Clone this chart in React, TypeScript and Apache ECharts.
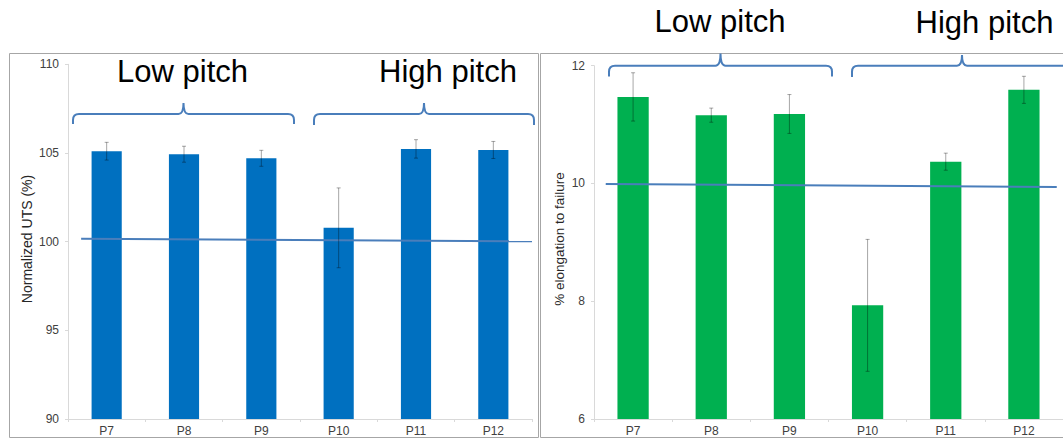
import React, { useEffect, useRef } from "react";
import * as echarts from "echarts";

// ---- data ----
const CATEGORIES = ["P7", "P8", "P9", "P10", "P11", "P12"];
const UTS = [105.1, 104.93, 104.7, 100.78, 105.23, 105.17];
const UTS_ERR = [0.5, 0.45, 0.45, 2.25, 0.52, 0.48];
const ELONG = [11.47, 11.16, 11.18, 7.93, 10.37, 11.59];
const ELONG_ERR = [0.41, 0.12, 0.33, 1.12, 0.145, 0.23];
// hand-drawn reference lines (x in category units 0..6, y in axis units)
const UTS_REF_X = [0.17, 6.0];
const UTS_REF_Y = [100.17, 100.02];
const ELONG_REF_X = [0.15, 5.92];
const ELONG_REF_Y = [9.99, 9.94];
// axis ranges
const UTS_AXIS = { min: 90, max: 110, interval: 5 };
const ELONG_AXIS = { min: 6, max: 12, interval: 2 };
const GROUP_LABELS = ["Low pitch", "High pitch"];
const Y_TITLES = ["Normalized UTS (%)", "% elongation to failure"];

const FONT = "'Liberation Sans', Arial, sans-serif";
const BRACE_COLOR = "#4a7ebb";

function bracePath(x1: number, x2: number, yBar: number, yTip: number, yEnd: number) {
  const r = 6;
  const t = 5;
  const mid = (x1 + x2) / 2;
  return (
    `M${x1},${yEnd} L${x1},${yBar + r} Q${x1},${yBar} ${x1 + r},${yBar} ` +
    `L${mid - t},${yBar} Q${mid},${yBar} ${mid},${yTip} ` +
    `Q${mid},${yBar} ${mid + t},${yBar} L${x2 - r},${yBar} ` +
    `Q${x2},${yBar} ${x2},${yBar + r} L${x2},${yEnd}`
  );
}

let registered = false;
function registerBraces() {
  if (registered) return;
  registered = true;
  echarts.graphic.registerShape("braceA", echarts.graphic.extendPath(bracePath(73, 294, 114, 103, 124), {}));
  echarts.graphic.registerShape("braceB", echarts.graphic.extendPath(bracePath(314, 534, 114, 103, 125), {}));
  echarts.graphic.registerShape("braceC", echarts.graphic.extendPath(bracePath(609, 832, 65.7, 53.5, 76.5), {}));
  echarts.graphic.registerShape("braceD", echarts.graphic.extendPath(bracePath(852, 1072, 65.7, 55, 77), {}));
}

function errRender(params: any, api: any) {
  const x = api.value(0);
  const lo = api.value(1);
  const hi = api.value(2);
  const pHi = api.coord([x, hi]);
  const pLo = api.coord([x, lo]);
  const cap = 2;
  const st = { stroke: "rgba(0,0,0,0.35)", lineWidth: 1 };
  return {
    type: "group",
    children: [
      { type: "line", shape: { x1: pHi[0], y1: pHi[1], x2: pLo[0], y2: pLo[1] }, style: st },
      { type: "line", shape: { x1: pHi[0] - cap, y1: pHi[1], x2: pHi[0] + cap, y2: pHi[1] }, style: st },
      { type: "line", shape: { x1: pLo[0] - cap, y1: pLo[1], x2: pLo[0] + cap, y2: pLo[1] }, style: st },
    ],
  };
}

const axisLabel = { color: "#404040", fontSize: 12, fontFamily: FONT };
const axisLine = { show: true, lineStyle: { color: "#d9d9d9", width: 1 } };

function catAxis(gridIndex: number) {
  return {
    type: "category",
    gridIndex,
    data: CATEGORIES,
    boundaryGap: true,
    axisLine,
    axisTick: { show: true, length: 3, interval: 0, lineStyle: { color: "#d9d9d9" } },
    axisLabel: { ...axisLabel, margin: 6, interval: 0 },
    splitLine: { show: false },
  };
}

function valAxis(gridIndex: number, r: { min: number; max: number; interval: number }) {
  return {
    type: "value",
    gridIndex,
    min: r.min,
    max: r.max,
    interval: r.interval,
    axisLine,
    axisTick: { show: true, length: 3, lineStyle: { color: "#d9d9d9" } },
    axisLabel: { ...axisLabel, margin: 9 },
    splitLine: { show: false },
  };
}

export default function App() {
  const ref = useRef<HTMLDivElement>(null);
  useEffect(() => {
    if (!ref.current) return;
    registerBraces();
    const chart = echarts.init(ref.current, undefined, { renderer: "svg" });
    const groupText = (text: string, x: number, y: number) => ({
      type: "text",
      x,
      y,
      style: { text, fill: "#000", font: `31px ${FONT}`, align: "center", verticalAlign: "middle" },
      z: 10,
    });
    const braceStyle = { stroke: BRACE_COLOR, lineWidth: 2, fill: "none" };
    chart.setOption({
      animation: false,
      backgroundColor: "#ffffff",
      grid: [
        { left: 68, top: 64.3, width: 464, height: 354.7 },
        { left: 594, top: 65.7, width: 469, height: 353.3 },
      ],
      xAxis: [
        catAxis(0),
        catAxis(1),
        { type: "value", gridIndex: 0, min: 0, max: 6, show: false },
        { type: "value", gridIndex: 1, min: 0, max: 6, show: false },
      ],
      yAxis: [valAxis(0, UTS_AXIS), valAxis(1, ELONG_AXIS)],
      series: [
        {
          type: "bar",
          xAxisIndex: 0,
          yAxisIndex: 0,
          data: UTS,
          barWidth: "39%",
          itemStyle: { color: "#0070c0" },
          z: 2,
        },
        {
          type: "custom",
          xAxisIndex: 0,
          yAxisIndex: 0,
          data: UTS.map((v, i) => [i, v - UTS_ERR[i], v + UTS_ERR[i]]),
          encode: { x: 0, y: [1, 2] },
          renderItem: errRender,
          z: 4,
        },
        {
          type: "line",
          xAxisIndex: 2,
          yAxisIndex: 0,
          data: UTS_REF_X.map((x, i) => [x, UTS_REF_Y[i]]),
          symbol: "none",
          lineStyle: { color: BRACE_COLOR, width: 2 },
          z: 3,
        },
        {
          type: "bar",
          xAxisIndex: 1,
          yAxisIndex: 1,
          data: ELONG,
          barWidth: "40%",
          itemStyle: { color: "#00b050" },
          z: 2,
        },
        {
          type: "custom",
          xAxisIndex: 1,
          yAxisIndex: 1,
          data: ELONG.map((v, i) => [i, v - ELONG_ERR[i], v + ELONG_ERR[i]]),
          encode: { x: 0, y: [1, 2] },
          renderItem: errRender,
          z: 4,
        },
        {
          type: "line",
          xAxisIndex: 3,
          yAxisIndex: 1,
          data: ELONG_REF_X.map((x, i) => [x, ELONG_REF_Y[i]]),
          symbol: "none",
          lineStyle: { color: BRACE_COLOR, width: 2 },
          z: 3,
        },
      ],
      graphic: [
        { type: "rect", shape: { x: 9.5, y: 53.5, width: 529, height: 384 }, style: { fill: "none", stroke: "#a6a6a6", lineWidth: 1 }, z: 0 },
        { type: "rect", shape: { x: 540.5, y: 53.5, width: 540, height: 384 }, style: { fill: "none", stroke: "#a6a6a6", lineWidth: 1 }, z: 0 },
        { type: "braceA", x: 0, y: 0, style: braceStyle, z: 10 },
        { type: "braceB", x: 0, y: 0, style: braceStyle, z: 10 },
        { type: "braceC", x: 0, y: 0, style: braceStyle, z: 10 },
        { type: "braceD", x: 0, y: 0, style: braceStyle, z: 10 },
        groupText(GROUP_LABELS[0], 182.5, 71),
        groupText(GROUP_LABELS[1], 448, 71),
        groupText(GROUP_LABELS[0], 720, 21.6),
        groupText(GROUP_LABELS[1], 984.5, 22.6),
        {
          type: "text",
          x: 27,
          y: 239,
          rotation: Math.PI / 2,
          style: { text: Y_TITLES[0], fill: "#262626", font: `14px ${FONT}`, align: "center", verticalAlign: "middle" },
        },
        {
          type: "text",
          x: 559,
          y: 239,
          rotation: Math.PI / 2,
          style: { text: Y_TITLES[1], fill: "#262626", font: `13.5px ${FONT}`, align: "center", verticalAlign: "middle" },
        },
      ],
    });
    return () => chart.dispose();
  }, []);
  return (
    <div
      ref={ref}
      style={{ position: "absolute", left: 0, top: 0, width: 1063, height: 439, background: "#fff" }}
    />
  );
}
